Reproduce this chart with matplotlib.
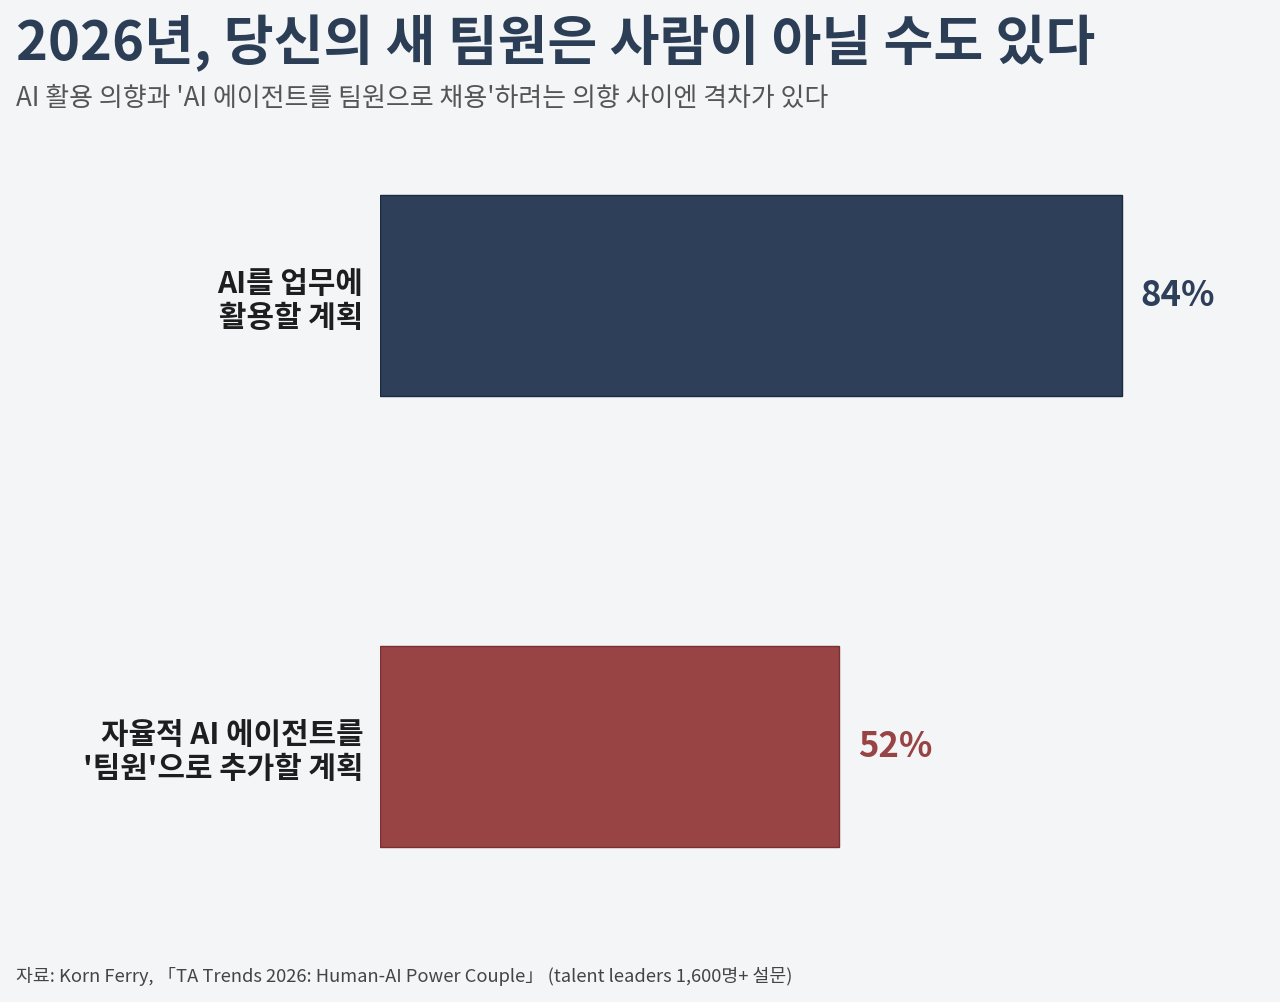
import matplotlib.pyplot as plt

# 데이터
categories = ['AI를 업무에\n활용할 계획', "자율적 AI 에이전트를\n'팀원'으로 추가할 계획"]
values = [84, 52]
bar_colors = ['#2e3f59', '#994444']
edge_colors = ['#1c2a3f', '#7a3030']

title = '2026년, 당신의 새 팀원은 사람이 아닐 수도 있다'
subtitle = "AI 활용 의향과 'AI 에이전트를 팀원으로 채용'하려는 의향 사이엔 격차가 있다"
source = '자료: Korn Ferry, 「TA Trends 2026: Human-AI Power Couple」 (talent leaders 1,600명+ 설문)'

plt.rcParams['font.family'] = ['Noto Sans CJK KR', 'DejaVu Sans']

bg = '#f4f5f7'
fig = plt.figure(figsize=(12.8, 10.02), dpi=100, facecolor=bg)

# 축 위치 (픽셀 기준으로 맞춤)
W, H = 1280, 1002
left, right = 380, 1263
top, bottom = 70, 972
ax = fig.add_axes([left / W, 1 - bottom / H, (right - left) / W, (bottom - top) / H])
ax.set_facecolor(bg)

ypos = list(range(len(categories)))
ax.barh(ypos, values, height=0.446, color=bar_colors, edgecolor=edge_colors, linewidth=1)
ax.set_xlim(0, 100)
ax.set_ylim(1.5, -0.5)

for y, v, c in zip(ypos, values, bar_colors):
    ax.text(v + 2.1, y, f'{v}%', va='center', ha='left', fontsize=25,
            fontweight='bold', color=c)

for y, lab in zip(ypos, categories):
    ax.text(-1.9, y + 0.012, lab, va='center', ha='right', fontsize=21.5, fontweight='bold',
            color='#1e1e1e', linespacing=1.2)

for s in ax.spines.values():
    s.set_visible(False)
ax.set_xticks([])
ax.set_yticks([])

fig.text(16 / W, 1 - 44 / H, title, fontsize=39, fontweight='bold', color='#2c3e55',
         va='center', ha='left')
fig.text(16 / W, 1 - 98 / H, subtitle, fontsize=18.7, color='#555555',
         va='center', ha='left')
fig.text(16 / W, 1 - 977 / H, source, fontsize=13.2, color='#444444',
         va='center', ha='left')

fig.savefig('out.png', dpi=100, facecolor=bg)
